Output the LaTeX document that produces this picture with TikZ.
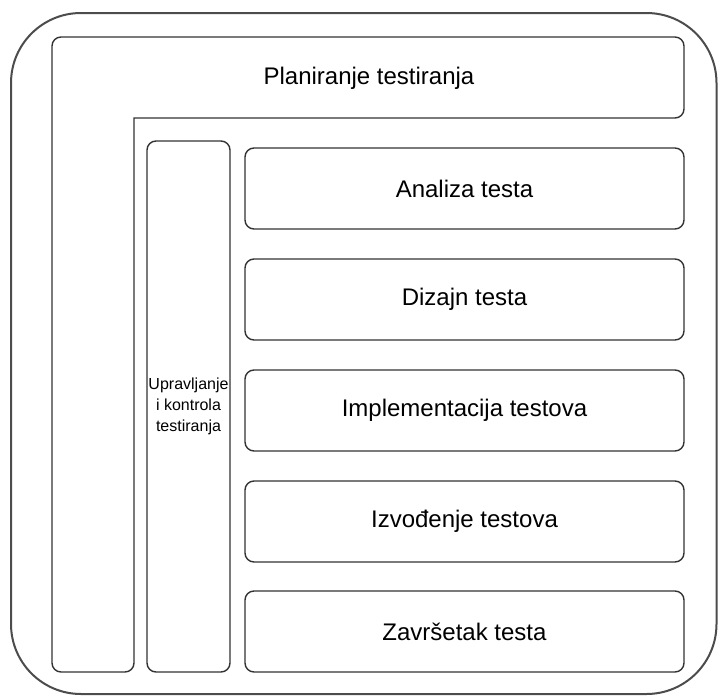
\documentclass[tikz,border=0pt]{standalone}
\usepackage{fontspec}
\setmainfont{Liberation Sans}
\begin{document}
\begin{tikzpicture}[x=1pt,y=-1pt,
  line/.style={draw=black!80, line width=1.4pt},
  phase/.style={line, rounded corners=9pt, minimum width=439pt, minimum height=81pt,
    inner sep=0pt, font=\fontsize{24}{28}\selectfont},
  ctrl/.style={line, rounded corners=9pt, minimum width=83pt, minimum height=531pt,
    inner sep=0pt, align=center, font=\fontsize{16}{21}\selectfont}]
\useasboundingbox (0,0) rectangle (718,696);
\draw[draw=black!70, line width=2pt, rounded corners=70pt] (11,13) rectangle (716.5,694);
% L-shaped planning frame
\draw[line, line cap=rect, rounded corners=9pt]
  (134,118) -- (684,118) -- (684,37) -- (52,37) -- (52,672) -- (134,672) -- (134,118);
\node[font=\fontsize{24}{28}\selectfont] (plan) at (369,78) {Planiranje testiranja};
\node[ctrl] (ctrl) at (188.5,406.5) {Upravljanje\\i kontrola\\testiranja};
\node[phase] (a) at (464.5,188.5) {Analiza testa};
\node[phase] (d) at (464.5,299.5) {Dizajn testa};
\node[phase] (i) at (464.5,410.5) {Implementacija testova};
\node[phase] (e) at (464.5,521.5) {Izvođenje testova};
\node[phase] (z) at (464.5,631.5) {Završetak testa};
\end{tikzpicture}
\end{document}
